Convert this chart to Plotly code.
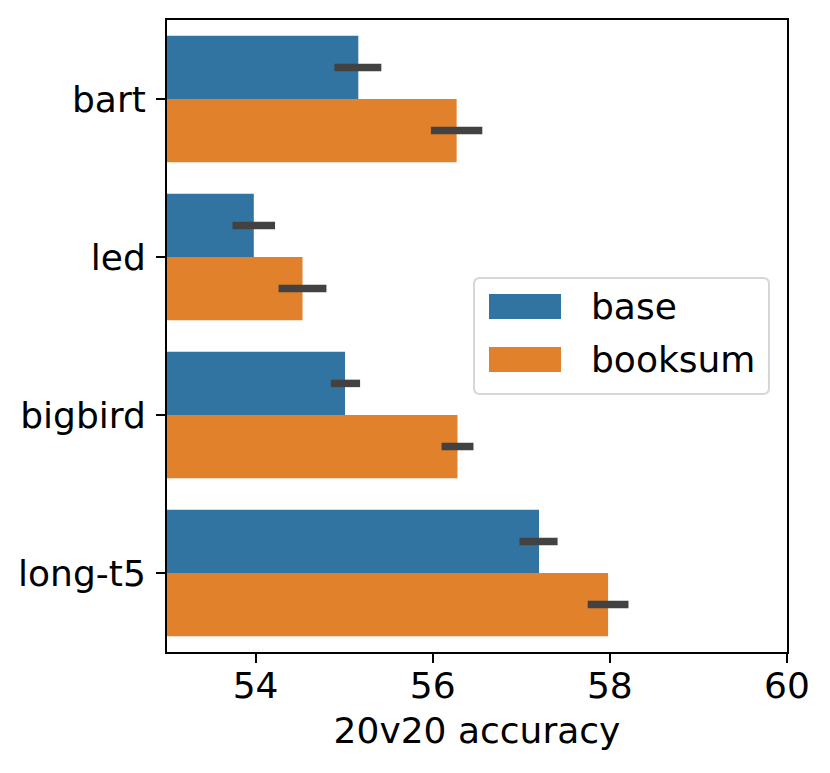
import plotly.graph_objects as go

models = ["bart", "led", "bigbird", "long-t5"]
base_vals = [55.16, 53.98, 55.01, 57.20]
base_lo = [54.89, 53.74, 54.85, 56.98]
base_hi = [55.42, 54.22, 55.18, 57.41]
booksum_vals = [56.27, 54.53, 56.28, 57.98]
booksum_lo = [55.98, 54.26, 56.10, 57.75]
booksum_hi = [56.56, 54.80, 56.46, 58.21]
x_ticks = [54, 56, 58, 60]

BLUE = "#3274a1"
ORANGE = "#e1812c"
ERR = "#424242"
FONT = "DejaVu Sans"
FS = 36

W, H = 830, 773
L, R, T, B = 167, 787, 20, 652  # plot area in pixels


def px(x):
    return (x - L) / (R - L)


def py(y):
    return (B - y) / (B - T)


def series(name, vals, lo, hi, color):
    return go.Bar(
        name=name,
        y=models,
        x=vals,
        orientation="h",
        marker=dict(color=color, line=dict(width=0)),
        error_x=dict(
            type="data",
            symmetric=False,
            array=[h - v for h, v in zip(hi, vals)],
            arrayminus=[v - l for v, l in zip(vals, lo)],
            color=ERR,
            thickness=7.5,
            width=0,
        ),
        showlegend=False,
    )


fig = go.Figure()
fig.add_trace(series("base", base_vals, base_lo, base_hi, BLUE))
fig.add_trace(series("booksum", booksum_vals, booksum_lo, booksum_hi, ORANGE))

fig.update_layout(
    width=W,
    height=H,
    margin=dict(l=L, r=W - R, t=T, b=H - B, pad=0),
    paper_bgcolor="white",
    plot_bgcolor="white",
    barmode="group",
    bargap=0.2,
    bargroupgap=0,
    font=dict(family=FONT, size=FS, color="black"),
)
fig.update_xaxes(
    range=[53, 60],
    tickvals=x_ticks,
    ticktext=[str(v) for v in x_ticks],
    ticks="outside",
    ticklen=9,
    tickwidth=2,
    tickcolor="black",
    showline=True,
    linecolor="black",
    linewidth=2,
    mirror=True,
    showgrid=False,
    zeroline=False,
    automargin=False,
    ticklabelstandoff=-8,
    title=dict(text="20v20 accuracy", font=dict(size=FS), standoff=13),
    tickfont=dict(size=FS),
)
fig.update_yaxes(
    categoryorder="array",
    categoryarray=models,
    autorange="reversed",
    ticks="outside",
    ticklen=9,
    tickwidth=2,
    tickcolor="black",
    showline=True,
    linecolor="black",
    linewidth=2,
    mirror=True,
    showgrid=False,
    zeroline=False,
    automargin=False,
    tickfont=dict(size=FS),
    ticklabelstandoff=3,
)

# legend drawn in the matplotlib style
lx0, lx1, ly0, ly1, r = 474, 769, 278, 394, 6
rx, ry = r / (R - L), r / (B - T)
x0, x1, y0, y1 = px(lx0), px(lx1), py(ly1), py(ly0)
path = (
    f"M {x0 + rx},{y0} L {x1 - rx},{y0} Q {x1},{y0} {x1},{y0 + ry} "
    f"L {x1},{y1 - ry} Q {x1},{y1} {x1 - rx},{y1} L {x0 + rx},{y1} "
    f"Q {x0},{y1} {x0},{y1 - ry} L {x0},{y0 + ry} Q {x0},{y0} {x0 + rx},{y0} Z"
)
fig.add_shape(type="path", path=path, xref="paper", yref="paper",
              line=dict(color="#d6d6d6", width=2), fillcolor="rgba(255,255,255,0.8)")
for name, color, top in [("base", BLUE, 294), ("booksum", ORANGE, 347)]:
    fig.add_shape(type="rect", xref="paper", yref="paper",
                  x0=px(489), x1=px(561), y0=py(top + 25), y1=py(top),
                  line=dict(width=0), fillcolor=color)
    fig.add_annotation(text=name, xref="paper", yref="paper",
                       x=px(589), y=py(top + 12.5), xanchor="left", yanchor="middle",
                       showarrow=False, font=dict(size=FS, family=FONT, color="black"))

fig.write_html(
    "out.html",
    config={"displayModeBar": False},
    post_script="document.body.style.margin='0';document.body.style.padding='0';",
)
